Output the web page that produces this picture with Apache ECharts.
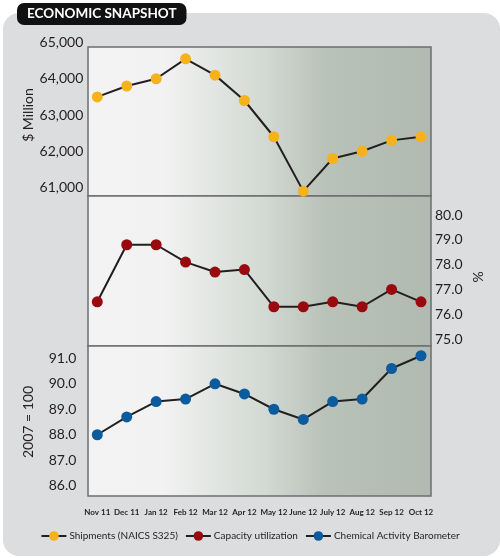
<!DOCTYPE html>
<html>
<head>
<meta charset="UTF-8">
<title>Economic Snapshot</title>
<script src="https://cdn.jsdelivr.net/npm/echarts@6.0.0/dist/echarts.min.js"></script>
<style>
body {
    margin: 0;
    padding: 0;
    background: #fff;
}
#main {
    width: 500px;
    height: 558px;
}
</style>
</head>
<body>
<div id="main"></div>
<script>
// values
var months = ['Nov 11', 'Dec 11', 'Jan 12', 'Feb 12', 'Mar 12', 'Apr 12',
              'May 12', 'June 12', 'July 12', 'Aug 12', 'Sep 12', 'Oct 12'];
var shipments = [63500, 63800, 64000, 64550, 64100, 63400, 62400, 60900, 61800, 62000, 62300, 62400];
var capacity = [76.5, 78.8, 78.8, 78.1, 77.7, 77.8, 76.3, 76.3, 76.5, 76.3, 77.0, 76.5];
var barometer = [88.0, 88.7, 89.3, 89.4, 90.0, 89.6, 89.0, 88.6, 89.3, 89.4, 90.6, 91.1];
var seriesNames = ['Shipments (NAICS S325)', 'Capacity utilization', 'Chemical Activity Barometer'];

var chart = echarts.init(document.getElementById('main'));

var FONT = 'Lato';
var INK = '#231f20';

// panel background: light on the left, grey-green on the right
var panelFill = new echarts.graphic.LinearGradient(0, 0, 1, 0, [
    { offset: 0, color: '#f3f3f3' },
    { offset: 0.22, color: '#f2f2f2' },
    { offset: 0.52, color: '#d2d8d2' },
    { offset: 0.69, color: '#b9c2b9' },
    { offset: 1, color: '#b0bab0' }
]);

function frameGrid(top, height) {
    return {
        left: 88, right: 69, top: top, height: height,
        show: true,
        backgroundColor: panelFill,
        borderColor: '#6d6e70',
        borderWidth: 1.5
    };
}
function dataGrid(top, height) {
    return { left: 97.3, right: 79, top: top, height: height };
}
function hiddenAxis(i) {
    return { gridIndex: i, type: 'value', show: false };
}
function monthAxis(i, showLabels) {
    return {
        gridIndex: i,
        type: 'category',
        data: months,
        boundaryGap: false,
        axisLine: { show: false },
        axisTick: { show: false },
        splitLine: { show: false },
        axisLabel: {
            show: showLabels,
            interval: 0,
            margin: 23,
            color: INK,
            fontFamily: FONT,
            fontWeight: 'bold',
            fontSize: 8
        }
    };
}
function valueAxis(i, pos, min, max, name, gap, fmt, margin) {
    return {
        gridIndex: i,
        type: 'value',
        position: pos,
        min: min,
        max: max,
        interval: max > 1000 ? 1000 : 1,
        name: name,
        nameLocation: 'middle',
        nameGap: gap,
        nameMoveOverlap: false,
        nameTextStyle: { color: INK, fontFamily: FONT, fontSize: 14 },
        axisLine: { show: false },
        axisTick: { show: false },
        splitLine: { show: false },
        axisLabel: { color: INK, fontFamily: FONT, fontSize: 14, margin: margin, formatter: fmt }
    };
}
function thousands(v) { return v.toLocaleString('en-US'); }
function oneDec(v) { return v.toFixed(1); }

function lineSeries(name, data, axis, color) {
    return {
        name: name,
        type: 'line',
        xAxisIndex: axis,
        yAxisIndex: axis,
        data: data,
        clip: false,
        symbol: 'circle',
        symbolSize: 11,
        lineStyle: { color: INK, width: 2 },
        itemStyle: { color: color },
        z: 5
    };
}

var option = {
    animation: false,
    graphic: [
        {
            type: 'rect', z: -10,
            shape: { x: 3, y: 13, width: 497, height: 543, r: 16 },
            style: { fill: '#dcddde' }
        }
    ],
    title: {
        text: 'ECONOMIC SNAPSHOT',
        left: 17, top: 3,
        backgroundColor: '#111111',
        borderRadius: 7,
        padding: [4, 10, 4, 10],
        textStyle: { color: '#fff', fontFamily: FONT, fontWeight: 'bold', fontSize: 13.5 }
    },
    legend: {
        data: seriesNames,
        left: 'center', top: 526, width: 490,
        itemWidth: 25, itemHeight: 12, itemGap: 7,
        textStyle: { color: INK, fontFamily: FONT, fontSize: 10, padding: [0, 0, 0, -2] }
    },
    grid: [
        frameGrid(47, 149), frameGrid(196, 150), frameGrid(346, 150),
        dataGrid(42.5, 145), dataGrid(215, 124), dataGrid(358.3, 127.4)
    ],
    xAxis: [
        hiddenAxis(0), hiddenAxis(1), hiddenAxis(2),
        monthAxis(3, false), monthAxis(4, false), monthAxis(5, true)
    ],
    yAxis: [
        hiddenAxis(0), hiddenAxis(1), hiddenAxis(2),
        valueAxis(3, 'left', 61000, 65000, '$ Million', 62, thousands, 14),
        valueAxis(4, 'right', 75, 80, '%', 50, oneDec, 14),
        valueAxis(5, 'left', 86, 91, '2007 = 100', 62, oneDec, 21)
    ],
    series: [
        lineSeries(seriesNames[0], shipments, 3, '#f5b21a'),
        lineSeries(seriesNames[1], capacity, 4, '#990a0f'),
        lineSeries(seriesNames[2], barometer, 5, '#0b5b9e')
    ]
};
chart.setOption(option);
</script>
</body>
</html>
